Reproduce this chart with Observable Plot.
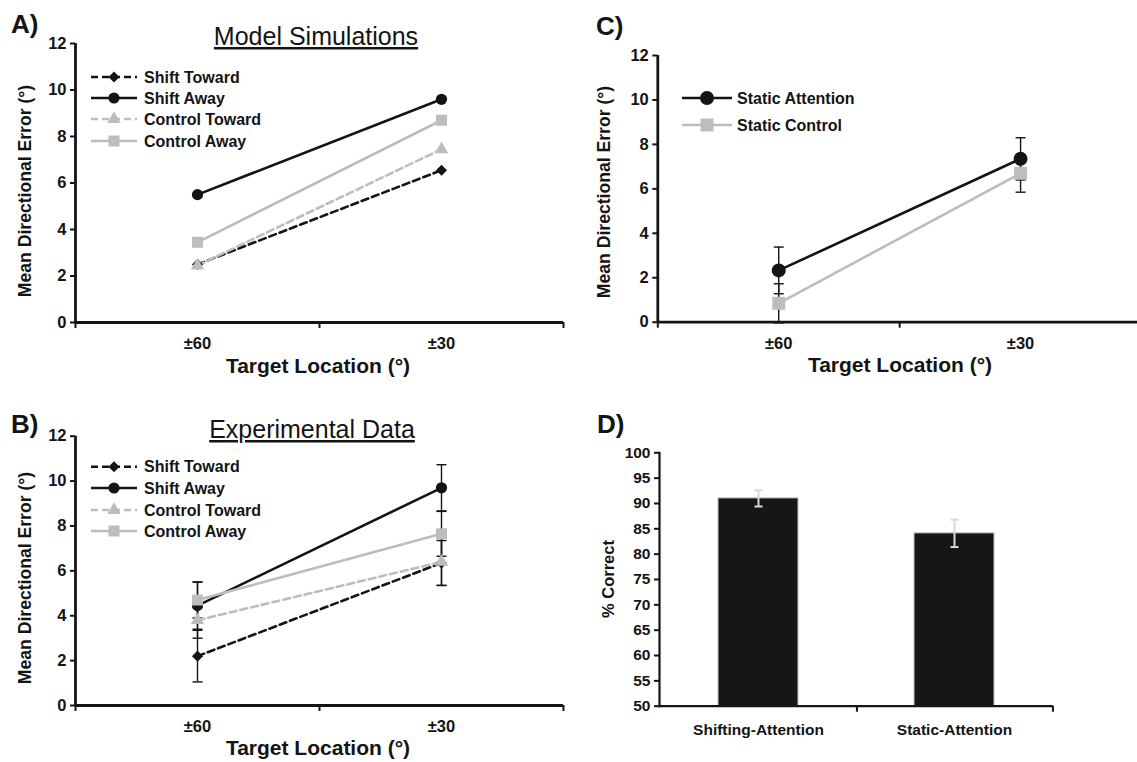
<!DOCTYPE html>
<html><head><meta charset="utf-8">
<script src="https://cdn.jsdelivr.net/npm/d3@7"></script>
<script src="https://cdn.jsdelivr.net/npm/@observablehq/plot@0.6"></script>
<style>
body{margin:0;background:#fff;overflow:hidden;}
#wrap{position:relative;width:1137px;height:762px;font-family:"Liberation Sans",Arial,sans-serif;overflow:hidden;}
#wrap > svg{position:absolute;overflow:visible;}
</style></head><body><div id="wrap"></div>
<script>
// ---------- data ----------
const locations = ["±60", "±30"];
const simSeries = ["Shift Toward", "Shift Away", "Control Toward", "Control Away"];
const simShiftToward = [2.5, 6.55];
const simShiftAway = [5.5, 9.6];
const simControlToward = [2.45, 7.45];
const simControlAway = [3.45, 8.7];

const expSeries = ["Shift Toward", "Shift Away", "Control Toward", "Control Away"];
const expShiftToward = [2.2, 6.35];
const expShiftTowardErr = [1.15, 1.0];
const expShiftAway = [4.45, 9.7];
const expShiftAwayErr = [1.05, 1.03];
const expControlToward = [3.8, 6.4];
const expControlTowardErr = [0.8, 1.05];
const expControlAway = [4.7, 7.65];
const expControlAwayErr = [0.8, 1.0];

const staticSeries = ["Static Attention", "Static Control"];
const staticAttention = [2.33, 7.35];
const staticAttentionErr = [1.05, 0.95];
const staticControl = [0.85, 6.7];
const staticControlErr = [0.88, 0.85];

const conditions = ["Shifting-Attention", "Static-Attention"];
const pctCorrect = [91.0, 84.1];
const pctCorrectErr = [1.6, 2.7];

const errorTicks = [0, 2, 4, 6, 8, 10, 12];
const pctTicks = [50, 55, 60, 65, 70, 75, 80, 85, 90, 95, 100];

// ---------- styles ----------
const ink = "#141414", grey = "#bdbdbd";
const FONT = "'Liberation Sans', Arial, sans-serif";
const styles = {
  "Shift Toward": {stroke: ink, dash: "7,4", symbol: "diamond2", r: 5},
  "Shift Away": {stroke: ink, dash: null, symbol: "circle", r: 5.6},
  "Control Toward": {stroke: grey, dash: "7,4", symbol: "triangle", r: 5},
  "Control Away": {stroke: grey, dash: null, symbol: "square", r: 6.2},
  "Static Attention": {stroke: ink, dash: null, symbol: "circle", r: 7},
  "Static Control": {stroke: grey, dash: null, symbol: "square", r: 7.3}
};
const d3sym = {circle: d3.symbolCircle, square: d3.symbolSquare, diamond2: d3.symbolDiamond2, triangle: d3.symbolTriangle};
const cap = {draw(ctx, size) { const w = Math.sqrt(size / Math.PI); ctx.moveTo(-w, 0); ctx.lineTo(w, 0); }};

const wrap = document.getElementById("wrap");
function place(el, left, top) { el.style.left = left + "px"; el.style.top = top + "px"; wrap.appendChild(el); }

function linePanel({series, values, errors, left, top, width, height, mL, mR, mT, mB}) {
  const rows = [];
  series.forEach((s, k) => locations.forEach((loc, i) => rows.push({series: s, loc, value: values[k][i], err: errors ? errors[k][i] : 0})));
  const xPos = d => locations.indexOf(d.loc) + 0.5;
  const marks = [];
  if (errors) {
    marks.push(Plot.ruleX(rows, {x: xPos, y1: d => d.value - d.err, y2: d => d.value + d.err, stroke: ink, strokeWidth: 1.4}));
    marks.push(Plot.dot(rows, {x: xPos, y: d => d.value + d.err, symbol: cap, r: 5, fill: "none", stroke: ink, strokeWidth: 1.4}));
    marks.push(Plot.dot(rows, {x: xPos, y: d => d.value - d.err, symbol: cap, r: 5, fill: "none", stroke: ink, strokeWidth: 1.4}));
  }
  series.forEach(s => {
    const st = styles[s];
    const sub = rows.filter(d => d.series === s);
    marks.push(Plot.line(sub, {x: xPos, y: "value", stroke: st.stroke, strokeWidth: 2.6, strokeDasharray: st.dash || undefined}));
  });
  series.forEach(s => {
    const st = styles[s];
    const sub = rows.filter(d => d.series === s);
    marks.push(Plot.dot(sub, {x: xPos, y: "value", symbol: st.symbol, r: st.r, fill: st.stroke}));
  });
  marks.push(
    Plot.axisY({ticks: errorTicks, tickSize: 5, tickPadding: 4, fontSize: 16.5, fontWeight: "bold", stroke: ink, strokeWidth: 2, fill: ink, label: null}),
    Plot.axisX({ticks: [0.5, 1.5], tickFormat: v => locations[Math.round(v - 0.5)], tickSize: 0, tickPadding: 15, fontSize: 16.5, fontWeight: "bold", fill: ink, label: null}),
    Plot.axisX({ticks: [0, 1, 2], tickFormat: () => "", tickSize: 6, stroke: ink, strokeWidth: 2, label: null}),
    Plot.ruleX([0], {stroke: ink, strokeWidth: 2.8}),
    Plot.ruleY([0], {stroke: ink, strokeWidth: 2.8})
  );
  const svg = Plot.plot({
    width, height, marginLeft: mL, marginRight: mR, marginTop: mT, marginBottom: mB,
    x: {type: "linear", domain: [0, 2], label: null},
    y: {domain: [0, 12], label: null},
    style: {fontFamily: FONT, fontWeight: "bold", fontSize: "16.5px", color: ink, background: "transparent"},
    marks
  });
  place(svg, left, top);
}

// Panel A
linePanel({series: simSeries, values: [simShiftToward, simShiftAway, simControlToward, simControlAway],
  left: 0, top: 0, width: 570, height: 385, mL: 75, mR: 7, mT: 43, mB: 63});
// Panel B
linePanel({series: expSeries, values: [expShiftToward, expShiftAway, expControlToward, expControlAway],
  errors: [expShiftTowardErr, expShiftAwayErr, expControlTowardErr, expControlAwayErr],
  left: 0, top: 390, width: 570, height: 372, mL: 75, mR: 7, mT: 45.7, mB: 57});
// Panel C
linePanel({series: staticSeries, values: [staticAttention, staticControl], errors: [staticAttentionErr, staticControlErr],
  left: 570, top: 0, width: 571, height: 385, mL: 87.3, mR: 0, mT: 55, mB: 63.3});

// Panel D
(function () {
  const width = 567, height = 372, mL = 89, mR = 84.3, mT = 62.3, mB = 56.3;
  const bw = (width - mL - mR) / conditions.length;
  const rows = conditions.map((c, i) => ({cond: c, value: pctCorrect[i], err: pctCorrectErr[i]}));
  const svg = Plot.plot({
    width, height, marginLeft: mL, marginRight: mR, marginTop: mT, marginBottom: mB,
    x: {domain: conditions, paddingInner: 0.594, paddingOuter: 0.297, label: null},
    y: {domain: [50, 100], label: null},
    style: {fontFamily: FONT, fontWeight: "bold", fontSize: "15px", color: ink, background: "transparent"},
    marks: [
      Plot.barY(rows, {x: "cond", y1: 50, y2: "value", fill: "#161616", stroke: "#c4c4c4", strokeWidth: 1}),
      Plot.ruleX(rows, {x: "cond", y1: d => d.value - d.err, y2: d => d.value + d.err, stroke: "#d9d9d9", strokeWidth: 2}),
      Plot.dot(rows, {x: "cond", y: d => d.value + d.err, symbol: cap, r: 4, fill: "none", stroke: "#d9d9d9", strokeWidth: 2}),
      Plot.dot(rows, {x: "cond", y: d => d.value - d.err, symbol: cap, r: 4, fill: "none", stroke: "#d9d9d9", strokeWidth: 2}),
      Plot.axisY({ticks: pctTicks, tickSize: 5, tickPadding: 4, fontSize: 15.5, fontWeight: "bold", stroke: ink, strokeWidth: 2, fill: ink, label: null}),
      Plot.axisX({tickSize: 0, tickPadding: 18, fontSize: 15.5, fontWeight: "bold", fill: ink, label: null}),
      Plot.axisX({tickSize: 6, tickFormat: () => "", dx: bw / 2, stroke: ink, strokeWidth: 2, label: null}),
      Plot.frame({anchor: "left", stroke: ink, strokeWidth: 2.2}),
      Plot.ruleY([50], {stroke: ink, strokeWidth: 2.2})
    ]
  });
  place(svg, 570, 390);
})();

// ---------- overlay: panel letters, titles, axis titles, legends ----------
const ov = d3.select(wrap).append("svg").attr("width", 1137).attr("height", 762)
  .style("left", "0px").style("top", "0px").style("pointer-events", "none")
  .attr("font-family", FONT).attr("fill", ink);
function txt(x, y, s, size, opts = {}) {
  const t = ov.append("text").attr("x", x).attr("y", y).text(s).attr("font-size", size)
    .attr("font-weight", opts.weight || "bold").attr("text-anchor", opts.anchor || "start");
  if (opts.rotate) t.attr("transform", `rotate(-90 ${x} ${y})`);
  if (opts.underline) t.style("text-decoration", "underline");
  return t;
}
txt(11, 33, "A)", 26);
txt(11, 433, "B)", 26);
txt(596, 35, "C)", 26);
txt(597, 433, "D)", 26);
txt(316, 45, "Model Simulations", 25, {weight: "normal", anchor: "middle", underline: true});
txt(312, 438, "Experimental Data", 25, {weight: "normal", anchor: "middle", underline: true});
txt(30.5, 191, "Mean Directional Error (°)", 17.6, {anchor: "middle", rotate: true});
txt(30.5, 578, "Mean Directional Error (°)", 17.6, {anchor: "middle", rotate: true});
txt(609.5, 192, "Mean Directional Error (°)", 17.6, {anchor: "middle", rotate: true});
txt(614, 579, "% Correct", 16.5, {anchor: "middle", rotate: true});
txt(318, 373, "Target Location (°)", 21, {anchor: "middle"});
txt(318, 755, "Target Location (°)", 21, {anchor: "middle"});
txt(900, 372, "Target Location (°)", 21, {anchor: "middle"});

function legend(series, x0, x1, tx, ys) {
  series.forEach((s, i) => {
    const st = styles[s], y = ys[i], xm = (x0 + x1) / 2;
    const ln = ov.append("line").attr("x1", x0).attr("x2", x1).attr("y1", y).attr("y2", y)
      .attr("stroke", st.stroke).attr("stroke-width", 2.6);
    if (st.dash) ln.attr("stroke-dasharray", st.dash);
    ov.append("path").attr("d", d3.symbol(d3sym[st.symbol], st.r * st.r * Math.PI)())
      .attr("transform", `translate(${xm},${y})`).attr("fill", st.stroke);
    txt(tx, y + 5.5, s, 16);
  });
}
legend(simSeries, 91, 137, 144, [77, 98, 119, 141]);
legend(expSeries, 91, 137, 144, [466.7, 488, 510, 531]);
legend(staticSeries, 682, 732, 737, [98, 125]);
</script></body></html>
